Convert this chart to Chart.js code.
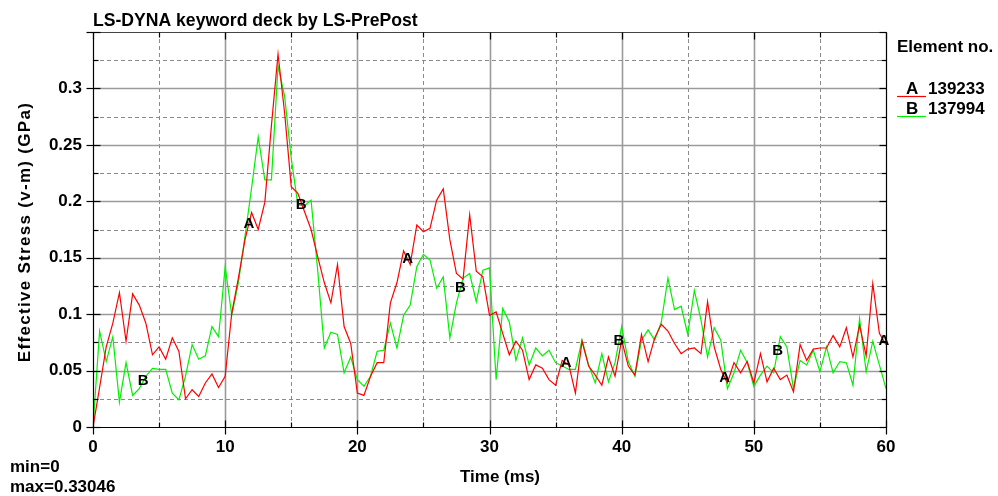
<!DOCTYPE html>
<html>
<head>
<meta charset="utf-8">
<script src="https://cdn.jsdelivr.net/npm/chart.js@4.4.0/dist/chart.umd.min.js"></script>
<style>
  html, body { margin: 0; padding: 0; background: #fff; }
  #wrap { width: 998px; height: 496px; position: relative; }
</style>
</head>
<body>
<div id="wrap"><canvas id="c" width="998" height="496"></canvas></div>
<script>
// Sample times (ms)
const timeMs = [
  0, 0.5, 1, 1.5, 2, 2.5, 3, 3.5, 4, 4.5, 5, 5.5, 6, 6.5, 7, 7.5, 8, 8.5, 9, 9.5,
  10, 10.5, 11, 11.5, 12, 12.5, 13, 13.5, 14, 14.5, 15, 15.5, 16, 16.5, 17, 17.5, 18, 18.5, 19, 19.5,
  20, 20.5, 21, 21.5, 22, 22.5, 23, 23.5, 24, 24.5, 25, 25.5, 26, 26.5, 27, 27.5, 28, 28.5, 29, 29.5,
  30, 30.5, 31, 31.5, 32, 32.5, 33, 33.5, 34, 34.5, 35, 35.5, 36, 36.5, 37, 37.5, 38, 38.5, 39, 39.5,
  40, 40.5, 41, 41.5, 42, 42.5, 43, 43.5, 44, 44.5, 45, 45.5, 46, 46.5, 47, 47.5, 48, 48.5, 49, 49.5,
  50, 50.5, 51, 51.5, 52, 52.5, 53, 53.5, 54, 54.5, 55, 55.5, 56, 56.5, 57, 57.5, 58, 58.5, 59, 59.5,
  60
];

// Effective stress (GPa), element 139233 (curve A)
const stressA = [
  0.000, 0.035, 0.071, 0.092, 0.119, 0.076, 0.118, 0.108, 0.092, 0.064,
  0.071, 0.060, 0.079, 0.067, 0.025, 0.033, 0.027, 0.039, 0.047, 0.035,
  0.045, 0.101, 0.132, 0.166, 0.190, 0.175, 0.199, 0.267, 0.33046, 0.278,
  0.213, 0.207, 0.191, 0.175, 0.151, 0.128, 0.110, 0.144, 0.089, 0.074,
  0.030, 0.028, 0.045, 0.057, 0.057, 0.110, 0.128, 0.156, 0.144, 0.179,
  0.173, 0.176, 0.201, 0.211, 0.166, 0.136, 0.131, 0.188, 0.138, 0.133,
  0.099, 0.102, 0.083, 0.064, 0.076, 0.068, 0.042, 0.055, 0.052, 0.042,
  0.037, 0.059, 0.055, 0.030, 0.076, 0.054, 0.046, 0.037, 0.062, 0.045,
  0.077, 0.054, 0.046, 0.082, 0.058, 0.079, 0.091, 0.085, 0.074, 0.065,
  0.069, 0.070, 0.065, 0.111, 0.071, 0.051, 0.039, 0.057, 0.048, 0.058,
  0.039, 0.065, 0.040, 0.052, 0.042, 0.046, 0.031, 0.073, 0.059, 0.069,
  0.070, 0.070, 0.081, 0.071, 0.088, 0.062, 0.090, 0.063, 0.127, 0.083,
  0.073
];

// Effective stress (GPa), element 137994 (curve B)
const stressB = [
  0.000, 0.085, 0.058, 0.080, 0.022, 0.057, 0.028, 0.034, 0.045, 0.052,
  0.051, 0.051, 0.030, 0.024, 0.045, 0.073, 0.060, 0.063, 0.089, 0.080,
  0.142, 0.099, 0.128, 0.169, 0.212, 0.257, 0.219, 0.219, 0.320, 0.293,
  0.238, 0.197, 0.196, 0.201, 0.139, 0.070, 0.084, 0.082, 0.048, 0.062,
  0.042, 0.036, 0.045, 0.067, 0.068, 0.092, 0.070, 0.099, 0.108, 0.142,
  0.153, 0.148, 0.123, 0.133, 0.079, 0.110, 0.132, 0.136, 0.111, 0.139,
  0.141, 0.042, 0.105, 0.093, 0.059, 0.079, 0.055, 0.070, 0.063, 0.068,
  0.057, 0.054, 0.051, 0.051, 0.077, 0.055, 0.039, 0.065, 0.040, 0.057,
  0.089, 0.058, 0.045, 0.077, 0.086, 0.077, 0.093, 0.132, 0.104, 0.107,
  0.082, 0.121, 0.095, 0.062, 0.088, 0.077, 0.034, 0.048, 0.068, 0.057,
  0.036, 0.046, 0.054, 0.048, 0.080, 0.071, 0.034, 0.059, 0.055, 0.068,
  0.049, 0.071, 0.048, 0.058, 0.057, 0.037, 0.096, 0.049, 0.076, 0.055,
  0.034
];

const curveIds = ['A', 'B'];
const elementNos = ['139233', '137994'];
const curveColors = ['#ff0000', '#00f000'];
// Times (ms) where the curve letters are stamped along each curve
const letterTimesA = [11.8, 23.8, 35.8, 47.8, 59.85];
const letterTimesB = [3.8, 15.75, 27.8, 39.8, 51.8];

const xMajor = [0, 10, 20, 30, 40, 50, 60];
const xMinor = [5, 15, 25, 35, 45, 55];
const yMajor = [0, 0.05, 0.1, 0.15, 0.2, 0.25, 0.3, 0.35];
const yMinor = [0.025, 0.075, 0.125, 0.175, 0.225, 0.275, 0.325];

const FONT = '"Liberation Sans", Arial, sans-serif';

const toPoints = ys => ys.map((v, i) => ({ x: timeMs[i], y: v }));

// value of a sampled curve at time t (straight segments between samples)
function valueAt(ys, t) {
  for (let i = 1; i < timeMs.length; i++) {
    if (t <= timeMs[i]) {
      const f = (t - timeMs[i - 1]) / (timeMs[i] - timeMs[i - 1]);
      return ys[i - 1] + f * (ys[i] - ys[i - 1]);
    }
  }
  return ys[ys.length - 1];
}

const gridPlugin = {
  id: 'lsGrid',
  beforeDatasetsDraw(chart) {
    const { ctx, chartArea: a, scales: { x, y } } = chart;
    ctx.save();
    ctx.lineWidth = 1;
    ctx.strokeStyle = '#8a8a8a';
    ctx.setLineDash([4, 3]);
    xMinor.forEach(v => {
      const px = Math.round(x.getPixelForValue(v)) + 0.5;
      ctx.beginPath(); ctx.moveTo(px, a.top); ctx.lineTo(px, a.bottom); ctx.stroke();
    });
    yMinor.forEach(v => {
      const py = Math.round(y.getPixelForValue(v)) + 0.5;
      ctx.beginPath(); ctx.moveTo(a.left, py); ctx.lineTo(a.right, py); ctx.stroke();
    });
    ctx.setLineDash([]);
    ctx.strokeStyle = '#9a9a9a';
    ctx.lineWidth = 1.6;
    xMajor.slice(1, -1).forEach(v => {
      const px = Math.round(x.getPixelForValue(v)) + 0.5;
      ctx.beginPath(); ctx.moveTo(px, a.top); ctx.lineTo(px, a.bottom); ctx.stroke();
    });
    yMajor.slice(1, -1).forEach(v => {
      const py = Math.round(y.getPixelForValue(v)) + 0.5;
      ctx.beginPath(); ctx.moveTo(a.left, py); ctx.lineTo(a.right, py); ctx.stroke();
    });
    ctx.restore();
  },
  afterDatasetsDraw(chart) {
    const { ctx, chartArea: a, scales: { x, y } } = chart;
    ctx.save();
    // curve letters
    ctx.fillStyle = '#000';
    ctx.font = 'bold 15px ' + FONT;
    ctx.textAlign = 'center';
    ctx.textBaseline = 'middle';
    [[letterTimesA, stressA], [letterTimesB, stressB]].forEach(([times, ys], di) => {
      times.forEach(t => {
        ctx.fillText(curveIds[di], x.getPixelForValue(t), y.getPixelForValue(valueAt(ys, t)));
      });
    });
    // frame
    const L = Math.round(a.left) + 0.5, R = Math.round(a.right) + 0.5;
    const T = Math.round(a.top) + 0.5, B = Math.round(a.bottom) + 0.5;
    ctx.lineWidth = 1.2;
    ctx.strokeStyle = '#444';
    ctx.beginPath(); ctx.moveTo(L, T); ctx.lineTo(R, T); ctx.stroke();
    ctx.strokeStyle = '#000';
    ctx.beginPath(); ctx.moveTo(R, T); ctx.lineTo(R, B); ctx.lineTo(L, B); ctx.lineTo(L, T); ctx.stroke();
    // tick marks
    ctx.lineWidth = 1.2;
    xMajor.forEach(v => {
      const px = Math.round(x.getPixelForValue(v)) + 0.5;
      ctx.beginPath(); ctx.moveTo(px, B - 7); ctx.lineTo(px, B + 7); ctx.stroke();
      ctx.beginPath(); ctx.moveTo(px, T); ctx.lineTo(px, T + 7); ctx.stroke();
    });
    xMinor.forEach(v => {
      const px = Math.round(x.getPixelForValue(v)) + 0.5;
      ctx.beginPath(); ctx.moveTo(px, B - 5); ctx.lineTo(px, B); ctx.stroke();
      ctx.beginPath(); ctx.moveTo(px, T); ctx.lineTo(px, T + 5); ctx.stroke();
    });
    yMajor.forEach(v => {
      const py = Math.round(y.getPixelForValue(v)) + 0.5;
      ctx.beginPath(); ctx.moveTo(L - 7, py); ctx.lineTo(L + 7, py); ctx.stroke();
      ctx.beginPath(); ctx.moveTo(R - 7, py); ctx.lineTo(R, py); ctx.stroke();
    });
    yMinor.forEach(v => {
      const py = Math.round(y.getPixelForValue(v)) + 0.5;
      ctx.beginPath(); ctx.moveTo(L, py); ctx.lineTo(L + 5, py); ctx.stroke();
      ctx.beginPath(); ctx.moveTo(R - 5, py); ctx.lineTo(R, py); ctx.stroke();
    });
    ctx.restore();
  },
  afterDraw(chart) {
    const { ctx } = chart;
    ctx.save();
    ctx.fillStyle = '#000';
    ctx.textBaseline = 'alphabetic';
    ctx.textAlign = 'left';
    ctx.font = 'bold 17.6px ' + FONT;
    ctx.fillText('LS-DYNA keyword deck by LS-PrePost', 93, 26);
    ctx.font = 'bold 17px ' + FONT;
    ctx.fillText('min=0', 10, 472);
    ctx.fillText('max=0.33046', 10, 492);
    // legend
    ctx.fillText('Element no.', 897, 52);
    elementNos.forEach((no, i) => {
      const base = 94 + i * 20;
      ctx.fillText(curveIds[i], 906, base);
      ctx.fillText(no, 928, base);
      ctx.strokeStyle = curveColors[i];
      ctx.lineWidth = 1.2;
      ctx.beginPath(); ctx.moveTo(897, base + 2.5); ctx.lineTo(926, base + 2.5); ctx.stroke();
    });
    // axis titles
    ctx.textAlign = 'center';
    ctx.fillText('Time (ms)', 500, 482);
    ctx.translate(30, 232);
    ctx.rotate(-Math.PI / 2);
    if ('letterSpacing' in ctx) {
      ctx.letterSpacing = '1.3px';
      ctx.fillText('Effective Stress (v-m) (GPa)', 0, 0);
    } else {
      ctx.font = 'bold 19.6px ' + FONT;
      ctx.fillText('Effective Stress (v-m) (GPa)', 0, 0);
    }
    ctx.restore();
  }
};

const fmt = v => {
  if (Math.abs(v - 0.35) < 1e-9) return null;
  return String(parseFloat(v.toFixed(3)));
};

new Chart(document.getElementById('c'), {
  type: 'line',
  data: {
    datasets: [
      { label: elementNos[0], data: toPoints(stressA), borderColor: curveColors[0], borderWidth: 1.2, pointRadius: 0, tension: 0, fill: false },
      { label: elementNos[1], data: toPoints(stressB), borderColor: curveColors[1], borderWidth: 1.2, pointRadius: 0, tension: 0, fill: false }
    ]
  },
  options: {
    responsive: false,
    animation: false,
    devicePixelRatio: 1,
    layout: { padding: { left: 0, right: 112, top: 32, bottom: 0 } },
    plugins: { legend: { display: false }, tooltip: { enabled: false }, title: { display: false } },
    scales: {
      x: {
        type: 'linear', min: 0, max: 60,
        grid: { display: false, drawTicks: false },
        border: { display: false },
        ticks: { stepSize: 10, color: '#000', font: { family: FONT, size: 17, weight: 'bold' }, padding: 10, maxRotation: 0, autoSkip: false },
        afterFit: s => { s.height = 69; }
      },
      y: {
        min: 0, max: 0.35,
        grid: { display: false, drawTicks: false },
        border: { display: false },
        ticks: { stepSize: 0.05, color: '#000', font: { family: FONT, size: 17, weight: 'bold' }, padding: 11, callback: fmt, autoSkip: false },
        afterFit: s => { s.width = 93; }
      }
    }
  },
  plugins: [gridPlugin]
});
</script>
</body>
</html>
